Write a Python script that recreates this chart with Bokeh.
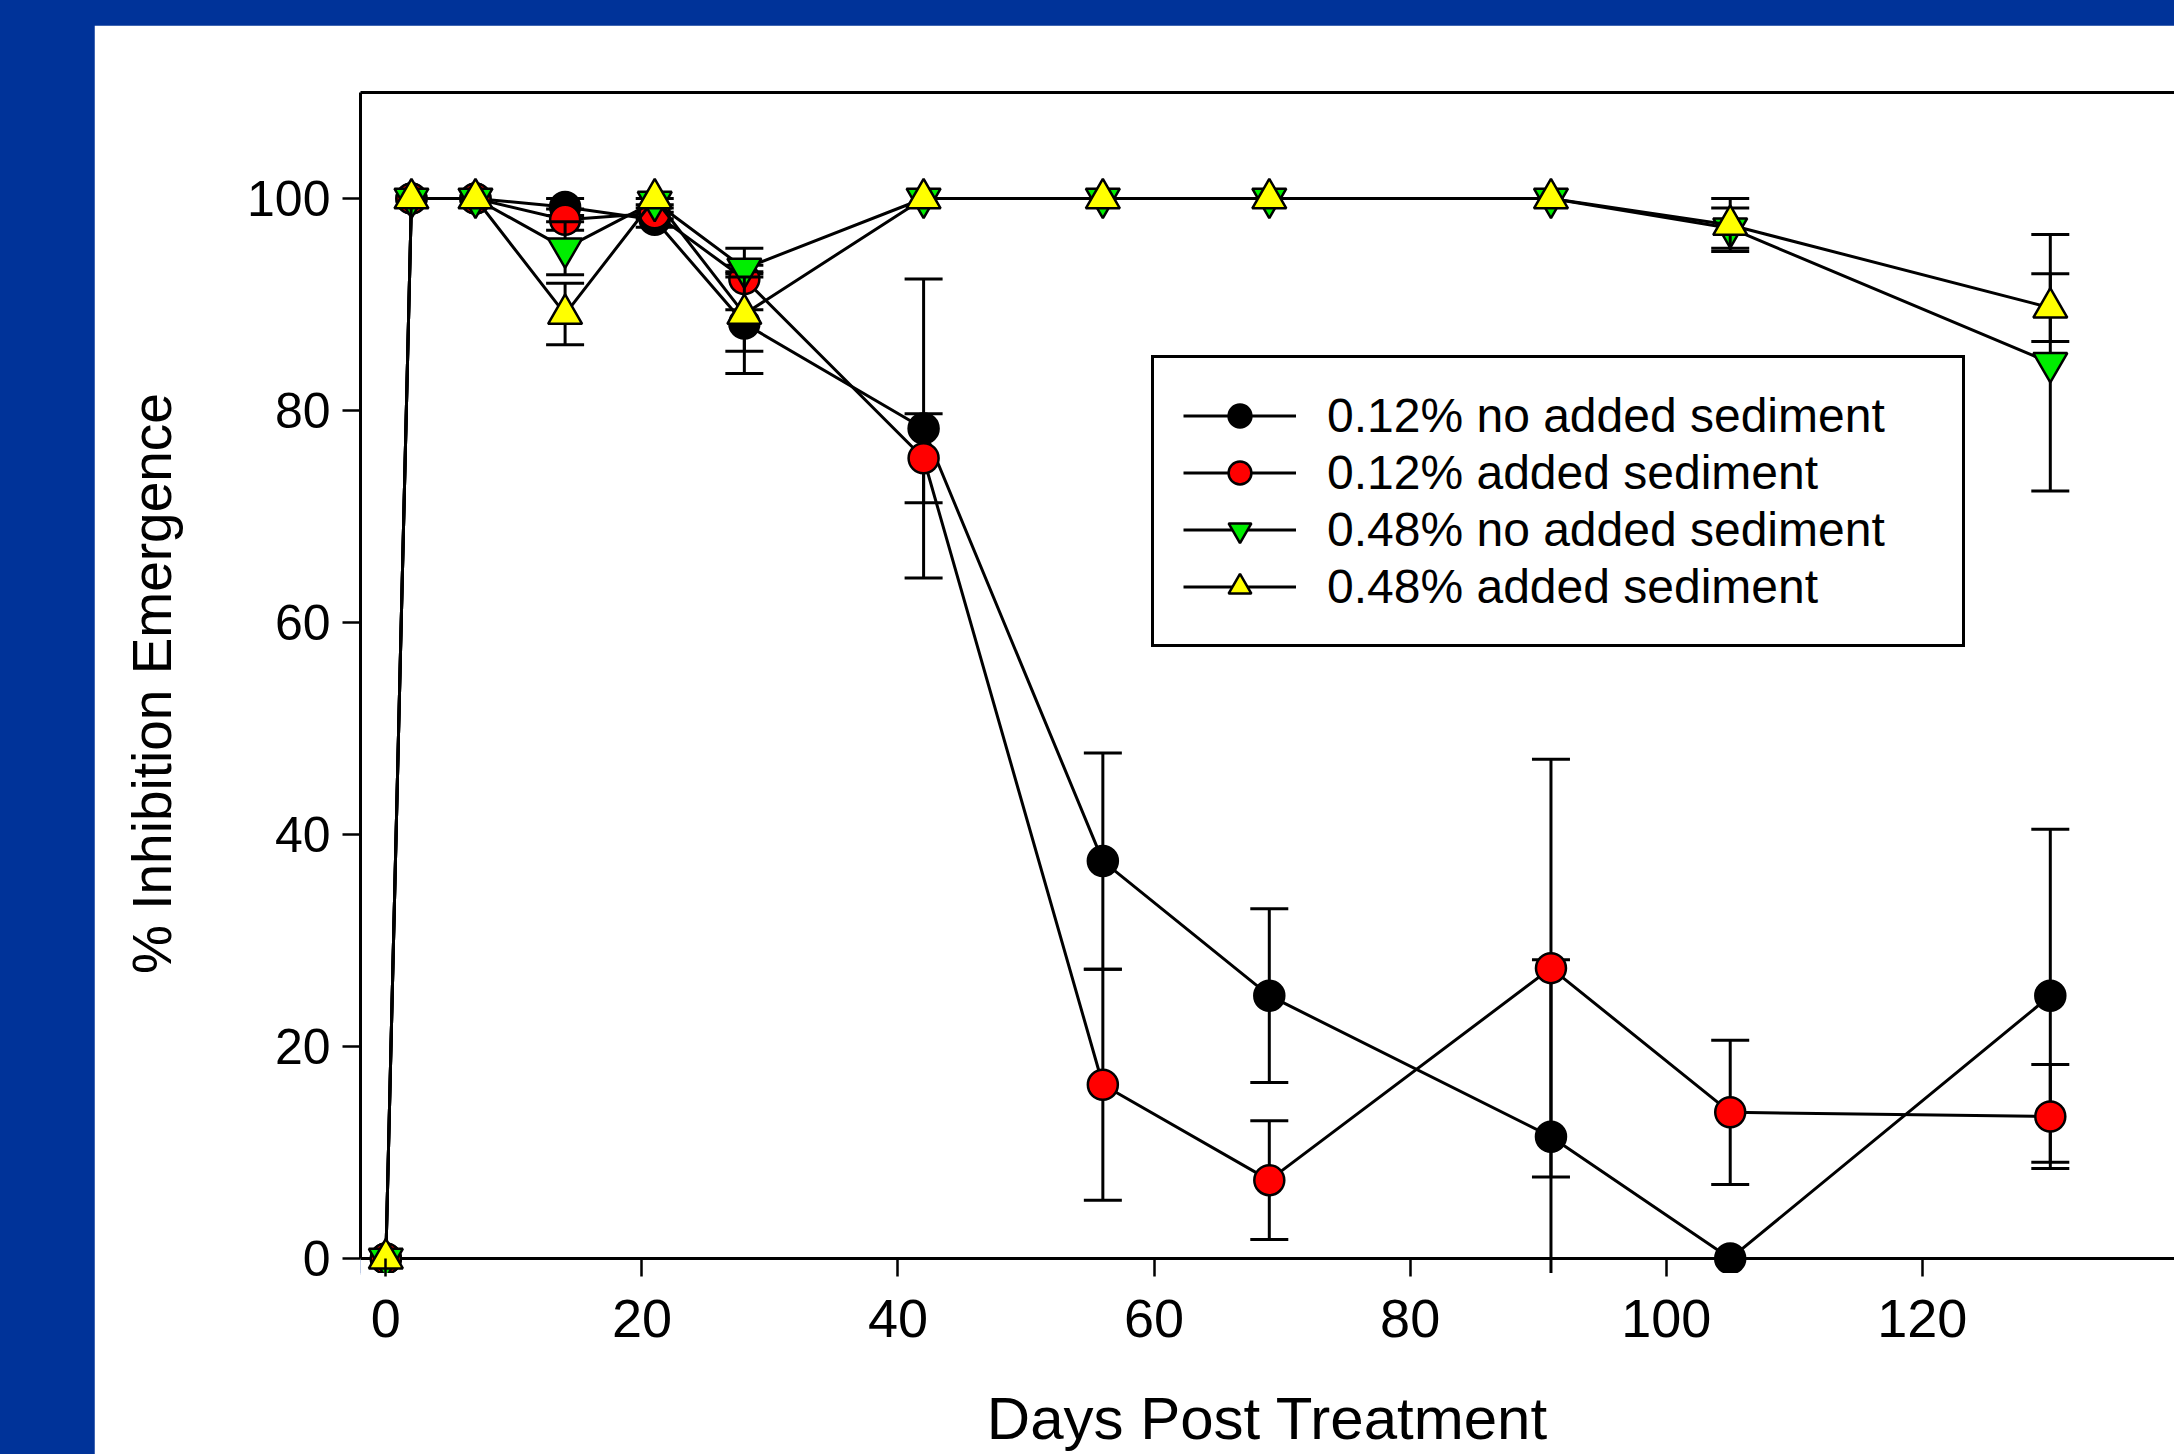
from bokeh.plotting import figure
from bokeh.models import Range1d, LinearAxis, Legend, LegendItem, FixedTicker, Span
from bokeh.layouts import column
from bokeh.embed import file_html
from bokeh.resources import INLINE

# ---- data ----
days = [0, 2, 7, 14, 21, 28, 42, 56, 69, 91, 105, 130]

black_mean = [0, 100, 100, 99.2, 98.0, 88.2, 78.3, 37.5, 24.8, 11.5, 0, 24.8]
black_err = [0, 0, 0, 0.8, 0.7, 4.7, 14.1, 10.2, 8.2, 16.7, 0, 15.7]

red_mean = [0, 100, 100, 98.0, 98.6, 92.4, 75.5, 16.4, 7.4, 27.4, 13.8, 13.4]
red_err = [0, 0, 0, 1.0, 0.5, 2.9, 4.2, 10.9, 5.6, 19.7, 6.8, 4.9]

green_mean = [0, 100, 100, 95.3, 99.7, 93.4, 100, 100, 100, 100, 97.2, 84.5]
green_err = [0, 0, 0, 2.5, 0.3, 0.3, 0, 0, 0, 0, 1.9, 12.1]

yellow_mean = [0, 100, 100, 89.1, 100, 89.1, 100, 100, 100, 100, 97.5, 89.7]
yellow_err = [0, 0, 0, 2.9, 0, 3.5, 0, 0, 0, 0, 2.5, 3.2]

series_labels = ["0.12% no added sediment", "0.12% added sediment",
                 "0.48% no added sediment", "0.48% added sediment"]
x_ticks = [0, 20, 40, 60, 80, 100, 120, 140]
y_ticks = [0, 20, 40, 60, 80, 100]

FONT = "Liberation Sans"
BLUE = "#003399"

p = figure(width=2080, height=1429, output_backend="svg", toolbar_location=None,
           x_range=Range1d(-1.98, 139.7), y_range=Range1d(-1.5, 110),
           min_border_left=266, min_border_top=67, min_border_bottom=179,
           min_border_right=0, background_fill_color="white",
           border_fill_color="white", outline_line_color=None)
p.margin = (25, 0, 0, 94)
p.grid.visible = False

for ax in (p.xaxis[0], p.yaxis[0]):
    ax.axis_line_width = 3
    ax.axis_line_color = "black"
    ax.major_tick_line_width = 2.5
    ax.minor_tick_line_color = None
    ax.major_label_text_font = FONT
    ax.major_label_text_color = "black"
    ax.axis_label_text_font = FONT
    ax.axis_label_text_font_style = "normal"
    ax.axis_label_text_color = "black"

# y axis: line stops at 0; x axis line drawn as a span at y = 0
p.yaxis.bounds = (0, 110)
p.yaxis.major_tick_in = 0
p.yaxis.major_tick_out = 18
p.xaxis.axis_line_color = "white"
p.xaxis.axis_line_width = 3
p.xaxis.major_tick_in = 16
p.xaxis.major_tick_out = 2
p.add_layout(Span(location=0, dimension="width", line_color="black",
                  line_width=3, level="underlay"))

p.xaxis.ticker = FixedTicker(ticks=x_ticks)
p.yaxis.ticker = FixedTicker(ticks=y_ticks)
p.xaxis.major_label_text_font_size = "54px"
p.yaxis.major_label_text_font_size = "50px"
p.xaxis.major_label_standoff = 23
p.yaxis.major_label_standoff = 12
p.xaxis.axis_label = "Days Post Treatment"
p.yaxis.axis_label = "% Inhibition Emergence"
p.xaxis.axis_label_text_font_size = "60px"
p.yaxis.axis_label_text_font_size = "55px"
p.xaxis.axis_label_standoff = 45
p.yaxis.axis_label_standoff = 61

top_axis = LinearAxis(axis_line_width=3, axis_line_color="black",
                      major_tick_line_color=None, minor_tick_line_color=None,
                      major_label_text_font_size="0px", major_label_text_color=None)
p.add_layout(top_axis, "above")

series = [
    (black_mean, black_err, "black", "circle", 30),
    (red_mean, red_err, "red", "circle", 30),
    (green_mean, green_err, "#00ee00", "inverted_triangle", 34),
    (yellow_mean, yellow_err, "yellow", "triangle", 34),
]

items = []
for (mean, err, color, marker, size), label in zip(series, series_labels):
    ln = p.line(days, mean, line_color="black", line_width=3)
    ex = [d for d, e in zip(days, err) if e > 0]
    lo = [m - e for m, e in zip(mean, err) if e > 0]
    hi = [m + e for m, e in zip(mean, err) if e > 0]
    if ex:
        p.segment(x0=ex, y0=lo, x1=ex, y1=hi, line_color="black", line_width=3)
        p.scatter(ex, lo, marker="dash", size=38, line_color="black", line_width=3)
        p.scatter(ex, hi, marker="dash", size=38, line_color="black", line_width=3)
    sc = p.scatter(days, mean, marker=marker, size=size, fill_color=color,
                   line_color="black", line_width=2.5)
    items.append(LegendItem(label=label, renderers=[ln, sc]))

legend = Legend(items=items, location=(791, 627),
                border_line_color="black", border_line_width=3, border_line_alpha=1,
                background_fill_color="white", background_fill_alpha=1,
                padding=29, spacing=0, margin=0,
                glyph_width=113, glyph_height=57, label_height=50,
                label_width=606, label_standoff=31, label_text_font=FONT,
                label_text_font_size="48px", label_text_color="black")
p.add_layout(legend, "center")

layout = column(p, styles={"background-color": BLUE})

open("out.html", "w").write(file_html(layout, INLINE))
